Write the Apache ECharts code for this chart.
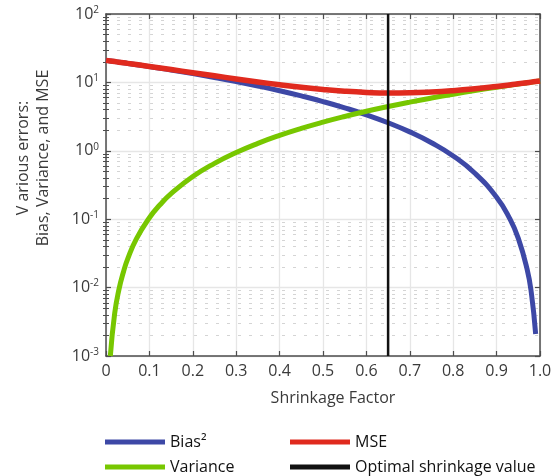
<!DOCTYPE html>
<html>
<head>
<meta charset="utf-8">
<script src="https://cdn.jsdelivr.net/npm/echarts@6/dist/echarts.min.js"></script>
<style>
  html, body { margin: 0; padding: 0; background: #fff; }
  #chart { width: 557px; height: 476px; }
</style>
</head>
<body>
<div id="chart"></div>
<script>
// shrinkage factor samples
var shrink = [0, 0.01, 0.02, 0.03, 0.04, 0.05, 0.07, 0.1, 0.125, 0.15, 0.2, 0.25, 0.3, 0.35, 0.4, 0.45,
  0.5, 0.55, 0.6, 0.65, 0.7, 0.75, 0.8, 0.85, 0.9, 0.93, 0.95, 0.97, 0.98, 0.99, 1.0];
// values (null = not drawn)
var bias2 = [21, 20.58, 20.17, 19.76, 19.35, 18.95, 18.16, 17.01, 16.08, 15.17, 13.44, 11.81, 10.29, 8.87, 7.56, 6.35,
  5.25, 4.25, 3.36, 2.57, 1.89, 1.31, 0.84, 0.47, 0.21, 0.103, 0.0525, 0.0189, 0.0084, 0.0021, null];
var variance = [null, 0.001, 0.0042, 0.0095, 0.0168, 0.0263, 0.0515, 0.105, 0.164, 0.236, 0.42, 0.656, 0.945, 1.286, 1.68, 2.126,
  2.625, 3.176, 3.78, 4.436, 5.145, 5.906, 6.72, 7.586, 8.505, 9.08, 9.476, 9.88, 10.08, 10.29, 10.5];
var mse = [21, 20.58, 20.17, 19.77, 19.37, 18.98, 18.21, 17.12, 16.24, 15.41, 13.86, 12.47, 11.24, 10.16, 9.24, 8.48,
  7.88, 7.43, 7.14, 7.01, 7.04, 7.22, 7.56, 8.06, 8.72, 9.18, 9.53, 9.90, 10.09, 10.29, 10.5];
var optimal = 0.65;
var yMajor = [0.001, 0.01, 0.1, 1, 10, 100];
var yMinor = [];
yMajor.slice(0, 5).forEach(function (d) {
  for (var k = 2; k <= 9; k++) yMinor.push(+(d * k).toPrecision(3));
});

function pairs(xs, ys) {
  var out = [];
  for (var i = 0; i < xs.length; i++) {
    if (ys[i] != null) out.push([xs[i], ys[i]]);
  }
  return out;
}

var FONT = 'Open Sans';
var axisColor = '#4d4d4d';
var textColor = '#3a3a3a';

var myChart = echarts.init(document.getElementById('chart'), null, { renderer: 'canvas' });

var yBase = {
  type: 'log', logBase: 10, min: 0.001, max: 100, gridIndex: 0
};

var option = {
  animation: false,
  grid: { left: 106, right: 17, top: 14, bottom: 120, containLabel: false },
  xAxis: [
    {
      type: 'value', min: 0, max: 1, interval: 0.1, position: 'bottom',
      axisLine: { show: true, onZero: false, lineStyle: { color: axisColor, width: 1.5 } },
      axisTick: { show: true, inside: true, length: 5, lineStyle: { color: axisColor, width: 1.2 } },
      axisLabel: {
        margin: 7, color: textColor, fontFamily: FONT, fontSize: 16,
        formatter: function (v) { return v === 0 ? '0' : v.toFixed(1); }
      },
      splitLine: { show: true, lineStyle: { color: '#e6e6e6', width: 1.3 } }
    },
    {
      type: 'value', min: 0, max: 1, interval: 0.1, position: 'top',
      axisLine: { show: true, onZero: false, lineStyle: { color: axisColor, width: 1.5 } },
      axisTick: { show: true, inside: true, length: 5, lineStyle: { color: axisColor, width: 1.2 } },
      axisLabel: { show: false },
      splitLine: { show: false }
    }
  ],
  yAxis: [
    Object.assign({}, yBase, {
      position: 'left',
      axisLine: { show: true, onZero: false, lineStyle: { color: axisColor, width: 1.5 } },
      axisTick: { show: true, inside: true, length: 5, lineStyle: { color: axisColor, width: 1.2 } },
      axisLabel: {
        margin: 7, color: textColor, fontFamily: FONT, fontSize: 16,
        formatter: function (v) {
          var e = Math.round(Math.log(v) / Math.LN10);
          return '{b|10}{s|' + (e < 0 ? '-' + (-e) : e) + '}';
        },
        rich: {
          b: { fontFamily: FONT, fontSize: 16, color: textColor },
          s: { fontFamily: FONT, fontSize: 10, color: textColor, verticalAlign: 'top', padding: [0, 0, 8, 0] }
        }
      },
      splitLine: { show: true, lineStyle: { color: '#e6e6e6', width: 1.3 } }
    }),
    Object.assign({}, yBase, {
      position: 'left',
      axisLine: { show: false },
      axisTick: { show: true, inside: true, length: 3, customValues: yMinor, lineStyle: { color: axisColor, width: 1 } },
      axisLabel: { show: false },
      splitLine: { show: true, lineStyle: { color: '#d4d4d4', width: 1, type: [3, 8] } }
    }),
    Object.assign({}, yBase, {
      position: 'right',
      axisLine: { show: true, onZero: false, lineStyle: { color: axisColor, width: 1.5 } },
      axisTick: { show: true, inside: true, length: 5, lineStyle: { color: axisColor, width: 1.2 } },
      axisLabel: { show: false },
      splitLine: { show: false }
    }),
    Object.assign({}, yBase, {
      position: 'right',
      axisLine: { show: false },
      axisTick: { show: true, inside: true, length: 3, customValues: yMinor, lineStyle: { color: axisColor, width: 1 } },
      axisLabel: { show: false },
      splitLine: { show: false }
    })
  ],
  legend: [
    {
      left: 105, top: 432, height: 80, padding: 0, orient: 'vertical', itemGap: 5, itemWidth: 60, itemHeight: 5, icon: 'rect',
      textStyle: { fontFamily: FONT, fontSize: 16, color: '#111', lineHeight: 20 },
      data: ['Bias²', 'Variance']
    },
    {
      left: 290, top: 432, height: 80, padding: 0, orient: 'vertical', itemGap: 5, itemWidth: 60, itemHeight: 5, icon: 'rect',
      textStyle: { fontFamily: FONT, fontSize: 16, color: '#111', lineHeight: 20 },
      data: ['MSE', 'Optimal shrinkage value']
    }
  ],
  graphic: [
    {
      type: 'text', x: 33, y: 158, rotation: Math.PI / 2,
      style: {
        text: 'V arious errors:\nBias, Variance, and MSE', fill: textColor,
        font: '16px "Open Sans"', align: 'center', verticalAlign: 'middle', lineHeight: 20
      }
    },
    {
      type: 'text', x: 333, y: 398,
      style: {
        text: 'Shrinkage Factor', fill: textColor,
        font: '16px "Open Sans"', align: 'center', verticalAlign: 'middle'
      }
    }
  ],
  series: [
    {
      name: 'Bias²', type: 'line', showSymbol: false, symbol: 'none', smooth: true,
      color: '#3d48a6', lineStyle: { width: 5, color: '#3d48a6', join: 'round' },
      data: pairs(shrink, bias2)
    },
    {
      name: 'Variance', type: 'line', showSymbol: false, symbol: 'none', smooth: true,
      color: '#77c700', lineStyle: { width: 5, color: '#77c700', join: 'round' },
      data: pairs(shrink, variance)
    },
    {
      name: 'MSE', type: 'line', showSymbol: false, symbol: 'none', smooth: true,
      color: '#e02a1e', lineStyle: { width: 5.5, color: '#e02a1e', join: 'round' },
      data: pairs(shrink, mse)
    },
    {
      name: 'Optimal shrinkage value', type: 'line', showSymbol: false, symbol: 'none',
      color: '#111111', lineStyle: { width: 2.5, color: '#111111' },
      data: [[optimal, 0.001], [optimal, 100]]
    }
  ]
};

myChart.setOption(option);
</script>
</body>
</html>
